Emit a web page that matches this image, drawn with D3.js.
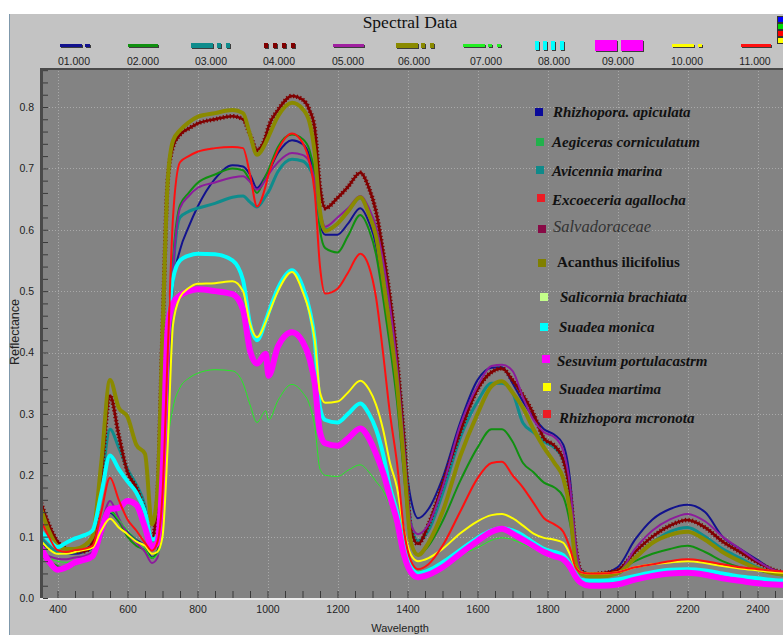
<!DOCTYPE html>
<html>
<head>
<meta charset="utf-8">
<script src="https://cdn.jsdelivr.net/npm/d3@7"></script>
<style>
  body { margin: 0; background: #fff; overflow: hidden; }
  svg { display: block; }
</style>
</head>
<body>
<svg id="chart" width="783" height="635"></svg>
<script>
// ---- Data -------------------------------------------------------------
const wavelengths = [
  350,375,400,425,450,475,500,525,550,575,
  600,625,650,670,685,700,715,730,750,775,
  800,850,900,930,950,970,995,1003,1030,1070,
  1100,1120,1135,1150,1165,1200,1230,1265,1290,1310,
  1330,1350,1370,1390,1410,1430,1460,1500,1550,1600,
  1640,1670,1700,1730,1760,1790,1820,1845,1865,1880,
  1895,1920,1950,2000,2050,2100,2150,2200,2250,2300,
  2350,2400,2450,2500
];

const seriesKeys = ["01.000","02.000","03.000","04.000","05.000","06.000",
                    "07.000","08.000","09.000","10.000","11.000"];

const v01 = [0.09,0.08,0.075,0.072,0.072,0.075,0.082,0.11,0.139,0.125,
  0.108,0.095,0.085,0.066,0.075,0.15,0.38,0.51,0.567,0.605,
  0.637,0.683,0.705,0.703,0.69,0.668,0.688,0.695,0.725,0.746,
  0.74,0.72,0.68,0.61,0.592,0.592,0.61,0.635,0.612,0.575,
  0.5,0.43,0.35,0.24,0.16,0.13,0.145,0.195,0.285,0.355,
  0.375,0.376,0.35,0.32,0.295,0.275,0.266,0.25,0.19,0.09,
  0.045,0.04,0.04,0.05,0.095,0.128,0.145,0.152,0.14,0.1,
  0.08,0.062,0.045,0.04];
const v02 = [0.07,0.06,0.052,0.048,0.055,0.06,0.065,0.1,0.142,0.125,
  0.1,0.085,0.078,0.065,0.075,0.15,0.38,0.55,0.64,0.66,
  0.676,0.69,0.7,0.697,0.68,0.66,0.688,0.698,0.735,0.755,
  0.748,0.73,0.69,0.6,0.57,0.563,0.59,0.624,0.6,0.56,
  0.49,0.41,0.32,0.2,0.09,0.071,0.085,0.125,0.19,0.245,
  0.275,0.275,0.255,0.22,0.205,0.188,0.18,0.165,0.12,0.065,
  0.045,0.04,0.04,0.045,0.06,0.072,0.08,0.085,0.075,0.06,
  0.05,0.045,0.04,0.035];
const v03 = [0.1,0.085,0.075,0.073,0.075,0.078,0.09,0.18,0.275,0.245,
  0.21,0.185,0.15,0.085,0.09,0.15,0.35,0.53,0.62,0.63,
  0.635,0.643,0.653,0.655,0.645,0.637,0.655,0.662,0.695,0.715,
  0.712,0.7,0.68,0.62,0.6,0.61,0.63,0.652,0.63,0.6,
  0.54,0.46,0.38,0.26,0.12,0.093,0.11,0.17,0.26,0.32,
  0.35,0.35,0.335,0.285,0.27,0.255,0.245,0.225,0.17,0.08,
  0.045,0.038,0.038,0.04,0.065,0.09,0.108,0.115,0.1,0.08,
  0.065,0.05,0.04,0.035];
const v04 = [0.16,0.12,0.092,0.08,0.076,0.076,0.09,0.2,0.33,0.265,
  0.205,0.18,0.14,0.095,0.16,0.43,0.68,0.735,0.755,0.765,
  0.773,0.78,0.785,0.78,0.755,0.73,0.752,0.768,0.795,0.818,
  0.812,0.795,0.765,0.67,0.635,0.652,0.67,0.693,0.668,0.63,
  0.565,0.49,0.39,0.26,0.11,0.088,0.12,0.185,0.27,0.34,
  0.368,0.374,0.355,0.33,0.3,0.26,0.248,0.225,0.17,0.085,
  0.045,0.038,0.04,0.045,0.075,0.1,0.118,0.127,0.115,0.092,
  0.075,0.058,0.045,0.04];
const v05 = [0.075,0.068,0.064,0.063,0.066,0.068,0.075,0.12,0.158,0.13,
  0.105,0.09,0.075,0.057,0.065,0.15,0.35,0.53,0.635,0.655,
  0.668,0.677,0.685,0.687,0.678,0.665,0.682,0.69,0.71,0.725,
  0.722,0.71,0.68,0.63,0.605,0.62,0.635,0.655,0.635,0.605,
  0.55,0.475,0.38,0.25,0.12,0.104,0.12,0.18,0.28,0.345,
  0.378,0.38,0.37,0.327,0.29,0.27,0.262,0.24,0.18,0.09,
  0.045,0.036,0.036,0.04,0.08,0.11,0.128,0.137,0.125,0.1,
  0.08,0.06,0.045,0.04];
const v06 = [0.15,0.11,0.085,0.08,0.08,0.085,0.1,0.22,0.355,0.31,
  0.295,0.25,0.235,0.12,0.17,0.43,0.68,0.745,0.762,0.775,
  0.784,0.79,0.795,0.79,0.755,0.722,0.742,0.752,0.785,0.807,
  0.797,0.775,0.725,0.63,0.598,0.61,0.63,0.653,0.625,0.59,
  0.52,0.44,0.35,0.22,0.09,0.07,0.09,0.14,0.23,0.3,
  0.345,0.353,0.335,0.31,0.275,0.245,0.22,0.195,0.14,0.06,
  0.04,0.035,0.035,0.04,0.065,0.09,0.103,0.108,0.095,0.075,
  0.06,0.048,0.04,0.037];
const v07 = [0.07,0.065,0.06,0.058,0.06,0.063,0.07,0.1,0.14,0.128,
  0.11,0.095,0.08,0.065,0.07,0.1,0.25,0.31,0.343,0.358,
  0.366,0.372,0.37,0.35,0.315,0.286,0.305,0.29,0.322,0.348,
  0.335,0.315,0.28,0.21,0.2,0.198,0.208,0.217,0.205,0.19,
  0.175,0.15,0.11,0.075,0.05,0.044,0.046,0.055,0.07,0.082,
  0.094,0.098,0.095,0.088,0.08,0.072,0.066,0.062,0.05,0.038,
  0.03,0.028,0.028,0.03,0.036,0.042,0.046,0.048,0.046,0.04,
  0.036,0.032,0.03,0.028];
const v08 = [0.11,0.095,0.083,0.09,0.097,0.102,0.11,0.17,0.232,0.21,
  0.19,0.172,0.14,0.095,0.1,0.2,0.42,0.52,0.55,0.558,
  0.561,0.56,0.55,0.518,0.447,0.42,0.452,0.465,0.505,0.534,
  0.508,0.47,0.42,0.31,0.29,0.286,0.3,0.317,0.3,0.275,
  0.235,0.18,0.14,0.085,0.05,0.04,0.045,0.058,0.078,0.098,
  0.11,0.114,0.11,0.102,0.09,0.08,0.075,0.07,0.055,0.04,
  0.03,0.028,0.028,0.03,0.036,0.042,0.046,0.047,0.045,0.04,
  0.035,0.032,0.029,0.028];
const v09 = [0.085,0.06,0.046,0.05,0.058,0.062,0.068,0.11,0.145,0.147,
  0.158,0.152,0.115,0.083,0.09,0.2,0.44,0.48,0.493,0.5,
  0.503,0.5,0.495,0.47,0.403,0.382,0.398,0.362,0.41,0.433,
  0.418,0.39,0.35,0.27,0.252,0.248,0.26,0.276,0.26,0.235,
  0.205,0.165,0.125,0.07,0.042,0.034,0.038,0.05,0.072,0.093,
  0.108,0.113,0.105,0.095,0.085,0.075,0.068,0.063,0.05,0.035,
  0.025,0.02,0.02,0.022,0.03,0.036,0.04,0.041,0.038,0.032,
  0.028,0.024,0.022,0.021];
const v10 = [0.095,0.08,0.072,0.072,0.075,0.078,0.082,0.11,0.129,0.115,
  0.104,0.092,0.085,0.072,0.075,0.1,0.25,0.445,0.49,0.505,
  0.512,0.513,0.516,0.5,0.447,0.425,0.45,0.462,0.5,0.531,
  0.5,0.465,0.42,0.335,0.318,0.32,0.335,0.354,0.34,0.315,
  0.275,0.22,0.18,0.11,0.07,0.06,0.065,0.08,0.105,0.125,
  0.135,0.137,0.13,0.118,0.105,0.098,0.095,0.09,0.07,0.05,
  0.042,0.04,0.04,0.042,0.05,0.055,0.058,0.06,0.057,0.052,
  0.048,0.045,0.042,0.04];
const v11 = [0.13,0.1,0.078,0.075,0.078,0.08,0.085,0.14,0.196,0.16,
  0.128,0.11,0.09,0.077,0.09,0.17,0.4,0.62,0.71,0.72,
  0.727,0.733,0.735,0.733,0.69,0.638,0.672,0.69,0.73,0.757,
  0.742,0.71,0.66,0.54,0.496,0.504,0.53,0.561,0.54,0.49,
  0.4,0.3,0.22,0.11,0.06,0.047,0.055,0.085,0.14,0.195,
  0.22,0.222,0.2,0.18,0.155,0.13,0.12,0.108,0.08,0.05,
  0.042,0.04,0.04,0.042,0.05,0.055,0.06,0.063,0.06,0.055,
  0.05,0.047,0.044,0.043];

const seriesValues = [v01, v02, v03, v04, v05, v06, v07, v08, v09, v10, v11];

const speciesNames = [
  "Rhizhopora. apiculata", "Aegiceras corniculatum", "Avicennia marina",
  "Excoeceria agallocha", "Salvadoraceae", "Acanthus ilicifolius",
  "Salicornia brachiata", "Suadea monica", "Sesuvium portulacastrm",
  "Suadea martima", "Rhizhopora mcronota"
];

const xTickValues = [400,600,800,1000,1200,1400,1600,1800,2000,2200,2400];
const yTickValues = [0,0.1,0.2,0.3,0.4,0.5,0.6,0.7,0.8];

// ---- Styles -----------------------------------------------------------
const lineStyles = [
  { color: "#12128e", width: 2 },
  { color: "#109010", width: 2 },
  { color: "#0f8c8c", width: 3 },
  { color: "#800000", width: 2.5, dotted: true },
  { color: "#8c1c9c", width: 2 },
  { color: "#8a8a00", width: 4 },
  { color: "#22ee22", width: 1 },
  { color: "#00ffff", width: 4 },
  { color: "#ff00ff", width: 6 },
  { color: "#ffff00", width: 2 },
  { color: "#ff1010", width: 2 }
];

// swatches of the key row: [x offset from label centre, width]
const keySwatches = [
  { color: "#12128e", h: 3, parts: [[-14,22],[11,5]] },
  { color: "#109010", h: 3, parts: [[-15,30]] },
  { color: "#0f8c8c", h: 5, parts: [[-20,22],[6,4],[15,4]] },
  { color: "#800000", h: 5, parts: [[-15,4],[-6,4],[3,4],[12,4]] },
  { color: "#a020a0", h: 3, parts: [[-15,31]] },
  { color: "#8a8a00", h: 5, parts: [[-18,22],[7,4],[16,4]] },
  { color: "#22ee22", h: 3, parts: [[-23,22],[2,4],[11,4]] },
  { color: "#00ffff", h: 9, parts: [[-19,4],[-11,4],[-3,4],[6,4]] },
  { color: "#ff00ff", h: 11, parts: [[-23,22],[3,22]] },
  { color: "#ffff00", h: 3, parts: [[-15,22],[11,4]] },
  { color: "#ff1010", h: 3, parts: [[-14,30]] }
];
const keyCentres = [74,143,211,279,348,414,486,554,618,687,755];

const legendColors = ["#0a0a9a","#22b14c","#0f8a8a","#ed1c24","#880a46","#808000",
                      "#c4ff8a","#00ffff","#ff00ff","#ffff00","#ed1c24"];
// square position, text position and font for each legend row
const legendLayout = [
  { sq: [535,108], tx: [553,117], weight: "bold", style: "italic", size: 15, fill: "#111" },
  { sq: [536,138], tx: [552,147], weight: "bold", style: "italic", size: 15, fill: "#111" },
  { sq: [536,166], tx: [552,176], weight: "bold", style: "italic", size: 15, fill: "#111" },
  { sq: [537,194], tx: [552,205], weight: "bold", style: "italic", size: 15, fill: "#111" },
  { sq: [538,225], tx: [553,232], weight: "normal", style: "italic", size: 16.5, fill: "#333" },
  { sq: [538,259], tx: [557,267], weight: "bold", style: "normal", size: 15, fill: "#111" },
  { sq: [540,293], tx: [560,302], weight: "bold", style: "italic", size: 15, fill: "#111" },
  { sq: [540,323], tx: [559,332], weight: "bold", style: "italic", size: 15, fill: "#111" },
  { sq: [542,355], tx: [557,366], weight: "bold", style: "italic", size: 15, fill: "#111" },
  { sq: [543,383], tx: [559,394], weight: "bold", style: "italic", size: 15, fill: "#111" },
  { sq: [543,410], tx: [559,423], weight: "bold", style: "italic", size: 15, fill: "#111" }
];

// ---- Layout -----------------------------------------------------------
const W = 783, H = 635;
const plot = { left: 40, top: 68, right: 783, bottom: 598 };

const svg = d3.select("#chart");

const x = d3.scaleLinear().domain([350, 2500]).range([40, 792.5]);
const y = d3.scaleLinear().domain([0, 0.8]).range([598, 107]);

// outer panel
svg.append("rect").attr("width", W).attr("height", H).attr("fill", "#ffffff");
svg.append("rect").attr("x", 10).attr("y", 14).attr("width", W - 10).attr("height", H - 14)
   .attr("fill", "#c3c3c3");
svg.append("line").attr("x1", 9.5).attr("x2", 9.5).attr("y1", 14).attr("y2", H)
   .attr("stroke", "#7f98ab").attr("stroke-width", 1);

// title
svg.append("text").attr("x", 410).attr("y", 28).attr("text-anchor", "middle")
   .attr("font-family", "'Liberation Serif', 'Times New Roman', serif")
   .attr("font-size", 17.5).attr("fill", "#111").text("Spectral Data");

// key row
const key = svg.append("g").attr("class", "key");
seriesKeys.forEach((k, i) => {
  const cx = keyCentres[i];
  const sw = keySwatches[i];
  const yc = 45.5;
  sw.parts.forEach(([dx, w]) => {
    key.append("rect").attr("x", cx + dx + 1).attr("y", yc - sw.h / 2 + 1)
       .attr("width", w).attr("height", sw.h).attr("fill", "#3c3c3c");
    key.append("rect").attr("x", cx + dx).attr("y", yc - sw.h / 2)
       .attr("width", w).attr("height", sw.h).attr("fill", sw.color);
  });
  key.append("text").attr("x", cx).attr("y", 65).attr("text-anchor", "middle")
     .attr("font-family", "'Liberation Sans', Arial, sans-serif")
     .attr("font-size", 10.5).attr("fill", "#222").text(k);
});

// small colour icon at the top right
["#0000ff","#00dd00","#ff0000","#ffff00"].forEach((c, i) => {
  svg.append("rect").attr("x", 777.5).attr("y", 16.5 + i * 7).attr("width", 6).attr("height", 6)
     .attr("fill", c).attr("stroke", "#333").attr("stroke-width", 1);
});

// plot background
svg.append("rect").attr("x", plot.left).attr("y", plot.top)
   .attr("width", plot.right - plot.left).attr("height", plot.bottom - plot.top)
   .attr("fill", "#838383");

// grid
const grid = svg.append("g").attr("stroke", "#a9a9a9").attr("stroke-width", 1)
   .attr("stroke-dasharray", "1,2");
xTickValues.forEach(v => {
  grid.append("line").attr("x1", Math.round(x(v)) + 0.5).attr("x2", Math.round(x(v)) + 0.5)
      .attr("y1", plot.top).attr("y2", plot.bottom);
});
yTickValues.slice(1).forEach(v => {
  grid.append("line").attr("x1", plot.left).attr("x2", plot.right)
      .attr("y1", Math.round(y(v)) + 0.5).attr("y2", Math.round(y(v)) + 0.5);
});

// spectra
svg.append("clipPath").attr("id", "plotClip").append("rect")
   .attr("x", plot.left + 2).attr("y", plot.top + 2)
   .attr("width", plot.right - plot.left).attr("height", plot.bottom - plot.top - 2);

const line = d3.line()
  .x(d => x(d[0]))
  .y(d => y(d[1]))
  .curve(d3.curveMonotoneX);

const curves = svg.append("g").attr("clip-path", "url(#plotClip)");
seriesValues.forEach((vals, i) => {
  const pts = wavelengths.map((w, j) => [w, vals[j]]);
  const st = lineStyles[i];
  curves.append("path").datum(pts)
    .attr("d", line).attr("fill", "none")
    .attr("stroke", st.color).attr("stroke-width", st.width)
    .attr("stroke-linejoin", "round").attr("stroke-linecap", "round");
  if (st.dotted) {
    curves.append("path").datum(pts)
      .attr("d", line).attr("fill", "none")
      .attr("stroke", st.color).attr("stroke-width", 4.5)
      .attr("stroke-dasharray", "1.2,2.2");
  }
});

// plot frame: dark top/left edge, light bottom edge
svg.append("rect").attr("x", plot.left).attr("y", plot.top).attr("width", plot.right - plot.left)
   .attr("height", 2).attr("fill", "#4a4a4a");
svg.append("rect").attr("x", plot.left).attr("y", plot.top).attr("width", 3)
   .attr("height", plot.bottom - plot.top).attr("fill", "#4a4a4a");
svg.append("rect").attr("x", plot.left).attr("y", plot.bottom).attr("width", plot.right - plot.left)
   .attr("height", 2).attr("fill", "#ececec");

// x axis: minor ticks inside the plot, labels below
const xMinor = d3.range(400, 2500, 50);
const xAxisTicks = svg.append("g").attr("transform", `translate(0,${plot.bottom})`)
  .call(d3.axisTop(x).tickValues(xMinor).tickSize(7).tickFormat(""));
xAxisTicks.select(".domain").remove();
xAxisTicks.selectAll("line").attr("stroke", "#3a3a3a");

const xAxisLabels = svg.append("g").attr("transform", `translate(0,${plot.bottom + 2})`)
  .call(d3.axisBottom(x).tickValues(xTickValues).tickSize(0).tickPadding(6).tickFormat(d3.format("d")));
xAxisLabels.select(".domain").remove();
xAxisLabels.selectAll("text").attr("font-family", "'Liberation Sans', Arial, sans-serif")
  .attr("font-size", 10.5).attr("fill", "#1e1e1e");

// y axis: minor ticks inside the plot, labels to the left
const yMinor = d3.range(0, 0.861, 0.02);
const yAxisTicks = svg.append("g").attr("transform", `translate(${plot.left + 3},0)`)
  .call(d3.axisRight(y).tickValues(yMinor).tickSize(5).tickFormat(""));
yAxisTicks.select(".domain").remove();
yAxisTicks.selectAll("line").attr("stroke", "#3a3a3a");

const yAxisLabels = svg.append("g").attr("transform", `translate(${plot.left - 4},0)`)
  .call(d3.axisLeft(y).tickValues(yTickValues).tickSize(0).tickPadding(2).tickFormat(d3.format(".1f")));
yAxisLabels.select(".domain").remove();
yAxisLabels.selectAll("text").attr("font-family", "'Liberation Sans', Arial, sans-serif")
  .attr("font-size", 10.5).attr("fill", "#1e1e1e");

// axis titles
svg.append("text").attr("x", 400).attr("y", 632).attr("text-anchor", "middle")
   .attr("font-family", "'Liberation Sans', Arial, sans-serif").attr("font-size", 11)
   .attr("fill", "#222").text("Wavelength");
svg.append("text").attr("transform", "translate(19,332) rotate(-90)").attr("text-anchor", "middle")
   .attr("font-family", "'Liberation Sans', Arial, sans-serif").attr("font-size", 12.5)
   .attr("fill", "#222").text("Reflectance");

// species legend inside the plot
const legend = svg.append("g").attr("class", "legend");
speciesNames.forEach((name, i) => {
  const L = legendLayout[i];
  legend.append("rect").attr("x", L.sq[0]).attr("y", L.sq[1]).attr("width", 8).attr("height", 8)
        .attr("fill", legendColors[i]);
  legend.append("text").attr("x", L.tx[0]).attr("y", L.tx[1])
        .attr("font-family", "'Liberation Serif', 'Times New Roman', serif")
        .attr("font-weight", L.weight).attr("font-style", L.style)
        .attr("font-size", L.size).attr("fill", L.fill).text(name);
});
</script>
</body>
</html>
